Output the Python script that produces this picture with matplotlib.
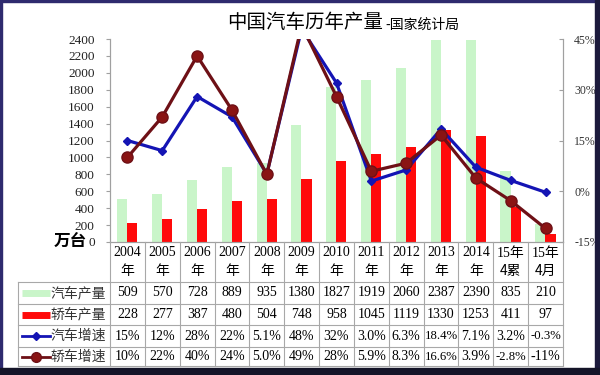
import matplotlib
matplotlib.use("Agg")
import matplotlib.pyplot as plt
from matplotlib.patches import Rectangle

CJK = ['Noto Sans CJK SC', 'DejaVu Sans']
NUM = ['Liberation Serif', 'Noto Sans CJK SC']

# data
years = ['2004\n年', '2005\n年', '2006\n年', '2007\n年', '2008\n年', '2009\n年',
         '2010\n年', '2011\n年', '2012\n年', '2013\n年', '2014\n年',
         '15年\n4累', '15年\n4月']
auto_prod = [509, 570, 728, 889, 935, 1380, 1827, 1919, 2060, 2387, 2390, 835, 210]
car_prod = [228, 277, 387, 480, 504, 748, 958, 1045, 1119, 1330, 1253, 411, 97]
auto_growth = [15, 12, 28, 22, 5.1, 48, 32, 3.0, 6.3, 18.4, 7.1, 3.2, -0.3]
car_growth = [10, 22, 40, 24, 5.0, 49, 28, 5.9, 8.3, 16.6, 3.9, -2.8, -11]
auto_growth_lbl = ['15%', '12%', '28%', '22%', '5.1%', '48%', '32%', '3.0%',
                   '6.3%', '18.4%', '7.1%', '3.2%', '-0.3%']
car_growth_lbl = ['10%', '22%', '40%', '24%', '5.0%', '49%', '28%', '5.9%',
                  '8.3%', '16.6%', '3.9%', '-2.8%', '-11%']
row_names = ['汽车产量', '轿车产量', '汽车增速', '轿车增速']
left_ticks = list(range(0, 2401, 200))
right_ticks = [-15, 0, 15, 30, 45]

green = '#c9f5c9'
red = '#ff0a0a'
blue = '#1414b4'
maroon = '#6e1016'
maroon_mk = '#8a1414'

W, H = 600, 375
fig = plt.figure(figsize=(6, 3.75), dpi=100)
fig.patch.set_facecolor('white')

# plot area in pixels
x0, x1, y_top, y_bot = 110, 563, 39, 242
ax = fig.add_axes([x0 / W, 1 - y_bot / H, (x1 - x0) / W, (y_bot - y_top) / H])
n = len(years)
xs = list(range(n))
ax.bar([i - 0.15 for i in xs], auto_prod, width=0.29, color=green, zorder=2)
ax.bar([i + 0.14 for i in xs], car_prod, width=0.29, color=red, zorder=2)
ax.set_xlim(-0.5, n - 0.5)
ax.set_ylim(0, 2400)
ax.set_yticks(left_ticks)
ax.set_yticklabels([str(t) for t in left_ticks], fontsize=9.5, family=NUM)
ax.set_xticks([])
ax.spines['top'].set_visible(False)
for s in ['left', 'right', 'bottom']:
    ax.spines[s].set_color('#a0a0a0')
ax.tick_params(axis='y', colors='#a0a0a0', labelcolor='#222222', length=3, pad=8)

ax2 = ax.twinx()
ax2.plot(xs, auto_growth, color=blue, lw=2.3, marker='D', ms=4.5,
         mfc=blue, mec=blue, zorder=3)
ax2.plot(xs, car_growth, color=maroon, lw=2.3, marker='o', ms=8,
         mfc=maroon_mk, mec=maroon, zorder=4)
ax2.set_ylim(-15, 45)
ax2.set_yticks(right_ticks)
ax2.set_yticklabels([f'{t}%' for t in right_ticks], fontsize=8.5, family=NUM)
ax2.spines['top'].set_visible(False)
for s in ['left', 'right', 'bottom']:
    ax2.spines[s].set_color('#a0a0a0')
ax2.tick_params(axis='y', colors='#a0a0a0', labelcolor='#333333', length=3,
                direction='in', pad=8)

# overlay in pixel coords for table, title and frame
ov2 = fig.add_axes([0, 0, 1, 1], zorder=5)
ov2.set_xlim(0, W)
ov2.set_ylim(H, 0)
ov2.axis('off')
ov2.patch.set_alpha(0)

cw = (x1 - x0) / n
rows_y = [282, 304, 325, 347, 366]
gc = '#a8a8a8'
for i in range(n + 1):
    ov2.plot([x0 + i * cw] * 2, [y_bot, rows_y[-1]], color=gc, lw=0.8)
ov2.plot([18, 18], [rows_y[0], rows_y[-1]], color=gc, lw=0.8)
for y in rows_y:
    ov2.plot([18, x1], [y, y], color=gc, lw=0.8)

for i, lab in enumerate(years):
    top, bot = lab.split('\n')
    cx = x0 + (i + 0.5) * cw
    ov2.text(cx, 253, top, ha='center', va='center', fontsize=10, family=NUM)
    ov2.text(cx, 271, bot, ha='center', va='center', fontsize=10, family=CJK)

table_vals = [[str(v) for v in auto_prod], [str(v) for v in car_prod],
              auto_growth_lbl, car_growth_lbl]
for r, vals in enumerate(table_vals):
    cy = (rows_y[r] + rows_y[r + 1]) / 2
    for i, v in enumerate(vals):
        cx = x0 + (i + 0.5) * cw
        fs = 10 if len(v) <= 4 else 9.2
        ov2.text(cx, cy, v, ha='center', va='center', fontsize=fs, family=NUM)
    ov2.text(106, cy, row_names[r], ha='right', va='center', fontsize=10,
             family=CJK, color='#333333')

# legend keys
ky = [(rows_y[k] + rows_y[k + 1]) / 2 for k in range(4)]
ov2.plot([22, 50], [ky[0]] * 2, color=green, lw=5, solid_capstyle='butt')
ov2.plot([22, 50], [ky[1]] * 2, color=red, lw=5, solid_capstyle='butt')
ov2.plot([22, 50], [ky[2]] * 2, color=blue, lw=2)
ov2.plot([36], [ky[2]], marker='D', ms=4.5, color=blue)
ov2.plot([22, 50], [ky[3]] * 2, color=maroon, lw=2)
ov2.plot([36], [ky[3]], marker='o', ms=7, color=maroon_mk, mec=maroon)

# titles
ov2.text(305, 22, '中国汽车历年产量', ha='center', va='center', fontsize=14,
         family=CJK)
ov2.text(385, 25, '-国家统计局', ha='left', va='center', fontsize=10, family=CJK)
ov2.text(70, 241, '万台', ha='center', va='center', fontsize=12, family=CJK,
         fontweight='bold')

# frame
ov2.add_patch(Rectangle((0, 0), W, 2, color='#2e2a6e'))
ov2.add_patch(Rectangle((0, 0), 2, H, color='#2e2a6e'))
ov2.add_patch(Rectangle((595, 0), 5, H, color='#1c1a3c'))
ov2.add_patch(Rectangle((0, 368), W, 7, color='#141428'))

fig.savefig('out.png', dpi=100)
